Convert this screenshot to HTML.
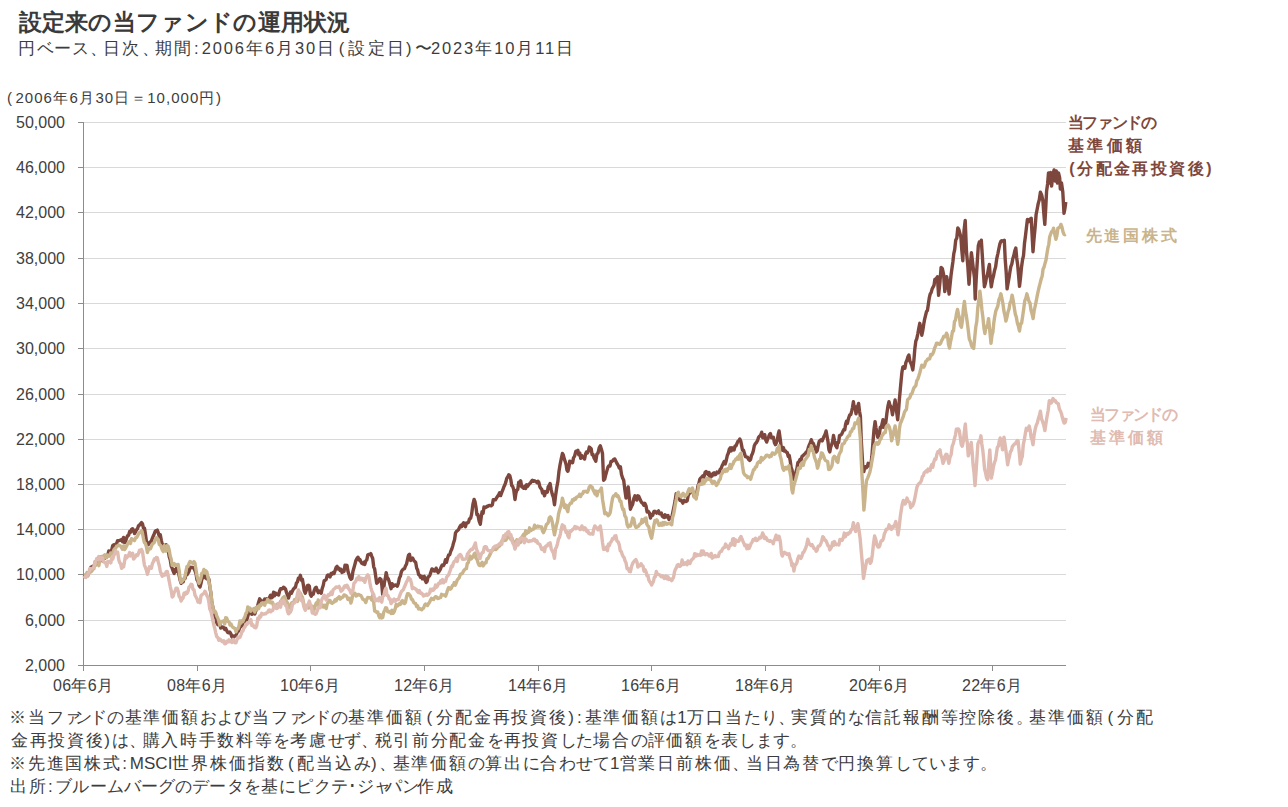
<!DOCTYPE html>
<html><head><meta charset="utf-8"><style>
html,body{margin:0;padding:0;background:#fff;width:1288px;height:807px;overflow:hidden;}
body{font-family:"Liberation Sans",sans-serif;color:#3c3c3c;position:relative;}
.t{position:absolute;white-space:nowrap;}
.yl{position:absolute;left:0;width:65px;text-align:right;font-size:16px;line-height:20px;color:#404040;}
.xl{position:absolute;top:676px;width:80px;text-align:center;font-size:16px;line-height:20px;color:#404040;letter-spacing:0.35px;text-indent:0.35px;}
svg{position:absolute;left:0;top:0;}
.kj{letter-spacing:calc(var(--ls) + 2.6px);}
.hi{letter-spacing:calc(var(--ls) + 0.9px);}
.ka{letter-spacing:calc(var(--ls) + 1.0px);}
.kn{letter-spacing:calc(var(--ls) - 1.5px);}
.sk{letter-spacing:calc(var(--ls) - 5px);}
.pu{letter-spacing:calc(var(--ls) - 3px);}
.dg{letter-spacing:calc(var(--ls) + var(--dg, 0.8px));}
.pl{margin-left:2.5px;margin-right:4.5px;}
.pr{margin-left:0px;margin-right:3.5px;}
.co{margin-left:0.5px;margin-right:3.5px;}
</style></head><body>
<div class="t" style="left:18.60px;top:6.50px;font-size:23.3px;font-weight:bold;color:#3a3a3a;--ls:0.294px;letter-spacing:0.294px;line-height:30px">設定来の当ファンドの運用状況</div>
<div class="t" style="left:17.60px;top:36.50px;font-size:16.5px;font-weight:normal;color:#3c3c3c;--ls:-0.405px;--dg:2.2px;letter-spacing:-0.405px;line-height:22px"><span class="kj">円</span><span class="ka">ベース</span><span class="pu">、</span><span class="kj">日次</span><span class="pu">、</span><span class="kj">期間</span><span class="co">:</span><span class="dg">2006</span><span class="kj">年</span><span class="dg">6</span><span class="kj">月</span><span class="dg">30</span><span class="kj">日</span><span class="pl">(</span><span class="kj">設定日</span><span class="pr">)</span><span class="wv">〜</span><span class="dg">2023</span><span class="kj">年</span><span class="dg">10</span><span class="kj">月</span><span class="dg">11</span><span class="kj">日</span></div>
<div class="t" style="left:4.50px;top:87.50px;font-size:15px;font-weight:normal;color:#3c3c3c;--ls:-1.132px;--dg:2.2px;letter-spacing:-1.132px;line-height:20px"><span class="pl">(</span><span class="dg">2006</span><span class="kj">年</span><span class="dg">6</span><span class="kj">月</span><span class="dg">30</span><span class="kj">日＝</span><span class="dg">10,000</span><span class="kj">円</span><span class="pr">)</span></div>

<div class="yl" style="top:656px">2,000</div><div class="yl" style="top:611px">6,000</div><div class="yl" style="top:565px">10,000</div><div class="yl" style="top:520px">14,000</div><div class="yl" style="top:475px">18,000</div><div class="yl" style="top:430px">22,000</div><div class="yl" style="top:385px">26,000</div><div class="yl" style="top:339px">30,000</div><div class="yl" style="top:294px">34,000</div><div class="yl" style="top:249px">38,000</div><div class="yl" style="top:203px">42,000</div><div class="yl" style="top:158px">46,000</div><div class="yl" style="top:113px">50,000</div>
<div class="xl" style="left:43px">06年6月</div><div class="xl" style="left:157px">08年6月</div><div class="xl" style="left:270px">10年6月</div><div class="xl" style="left:384px">12年6月</div><div class="xl" style="left:498px">14年6月</div><div class="xl" style="left:611px">16年6月</div><div class="xl" style="left:725px">18年6月</div><div class="xl" style="left:839px">20年6月</div><div class="xl" style="left:952px">22年6月</div>
<svg width="1288" height="807" viewBox="0 0 1288 807">
<line x1="78" y1="665.5" x2="83" y2="665.5" stroke="#8c8c8c" stroke-width="1"/><line x1="83" y1="620.5" x2="1066" y2="620.5" stroke="#d9d9d9" stroke-width="1"/><line x1="78" y1="620.5" x2="83" y2="620.5" stroke="#8c8c8c" stroke-width="1"/><line x1="83" y1="574.5" x2="1066" y2="574.5" stroke="#d9d9d9" stroke-width="1"/><line x1="78" y1="574.5" x2="83" y2="574.5" stroke="#8c8c8c" stroke-width="1"/><line x1="83" y1="529.5" x2="1066" y2="529.5" stroke="#d9d9d9" stroke-width="1"/><line x1="78" y1="529.5" x2="83" y2="529.5" stroke="#8c8c8c" stroke-width="1"/><line x1="83" y1="484.5" x2="1066" y2="484.5" stroke="#d9d9d9" stroke-width="1"/><line x1="78" y1="484.5" x2="83" y2="484.5" stroke="#8c8c8c" stroke-width="1"/><line x1="83" y1="439.5" x2="1066" y2="439.5" stroke="#d9d9d9" stroke-width="1"/><line x1="78" y1="439.5" x2="83" y2="439.5" stroke="#8c8c8c" stroke-width="1"/><line x1="83" y1="394.5" x2="1066" y2="394.5" stroke="#d9d9d9" stroke-width="1"/><line x1="78" y1="394.5" x2="83" y2="394.5" stroke="#8c8c8c" stroke-width="1"/><line x1="83" y1="348.5" x2="1066" y2="348.5" stroke="#d9d9d9" stroke-width="1"/><line x1="78" y1="348.5" x2="83" y2="348.5" stroke="#8c8c8c" stroke-width="1"/><line x1="83" y1="303.5" x2="1066" y2="303.5" stroke="#d9d9d9" stroke-width="1"/><line x1="78" y1="303.5" x2="83" y2="303.5" stroke="#8c8c8c" stroke-width="1"/><line x1="83" y1="258.5" x2="1066" y2="258.5" stroke="#d9d9d9" stroke-width="1"/><line x1="78" y1="258.5" x2="83" y2="258.5" stroke="#8c8c8c" stroke-width="1"/><line x1="83" y1="212.5" x2="1066" y2="212.5" stroke="#d9d9d9" stroke-width="1"/><line x1="78" y1="212.5" x2="83" y2="212.5" stroke="#8c8c8c" stroke-width="1"/><line x1="83" y1="167.5" x2="1066" y2="167.5" stroke="#d9d9d9" stroke-width="1"/><line x1="78" y1="167.5" x2="83" y2="167.5" stroke="#8c8c8c" stroke-width="1"/><line x1="83" y1="122.5" x2="1066" y2="122.5" stroke="#d9d9d9" stroke-width="1"/><line x1="78" y1="122.5" x2="83" y2="122.5" stroke="#8c8c8c" stroke-width="1"/>
<line x1="83.5" y1="122" x2="83.5" y2="671" stroke="#8c8c8c" stroke-width="1"/>
<line x1="78" y1="665.5" x2="1066" y2="665.5" stroke="#8c8c8c" stroke-width="1"/>
<line x1="83.5" y1="665" x2="83.5" y2="671" stroke="#8c8c8c" stroke-width="1"/><line x1="197.5" y1="665" x2="197.5" y2="671" stroke="#8c8c8c" stroke-width="1"/><line x1="310.5" y1="665" x2="310.5" y2="671" stroke="#8c8c8c" stroke-width="1"/><line x1="424.5" y1="665" x2="424.5" y2="671" stroke="#8c8c8c" stroke-width="1"/><line x1="538.5" y1="665" x2="538.5" y2="671" stroke="#8c8c8c" stroke-width="1"/><line x1="651.5" y1="665" x2="651.5" y2="671" stroke="#8c8c8c" stroke-width="1"/><line x1="765.5" y1="665" x2="765.5" y2="671" stroke="#8c8c8c" stroke-width="1"/><line x1="879.5" y1="665" x2="879.5" y2="671" stroke="#8c8c8c" stroke-width="1"/><line x1="992.5" y1="665" x2="992.5" y2="671" stroke="#8c8c8c" stroke-width="1"/>
<path d="M84.0,575.0 L85.0,576.5 L86.0,575.1 L87.0,574.8 L88.0,574.6 L89.0,572.6 L89.9,570.8 L90.9,567.1 L91.9,567.0 L92.9,566.1 L93.9,566.2 L94.9,565.2 L95.9,564.7 L96.9,562.3 L97.9,561.5 L98.9,560.1 L99.9,557.1 L100.8,557.0 L101.8,558.0 L102.8,561.0 L103.8,557.6 L104.8,558.3 L105.8,556.5 L106.8,556.2 L107.8,555.1 L108.8,550.9 L109.7,552.6 L110.7,552.4 L111.7,549.8 L112.7,545.7 L113.7,544.9 L114.7,547.3 L115.7,544.1 L116.6,543.7 L117.6,540.6 L118.6,540.6 L119.6,540.6 L120.6,540.1 L121.6,539.5 L122.6,541.8 L123.6,537.4 L124.6,542.6 L125.6,541.3 L126.6,538.0 L127.6,535.7 L128.6,535.2 L129.6,531.6 L130.6,532.2 L131.6,529.4 L132.6,528.7 L133.5,530.2 L134.5,533.6 L135.5,532.1 L136.5,529.9 L137.5,528.7 L138.5,525.7 L139.5,525.1 L140.5,523.8 L141.5,522.6 L142.5,523.8 L143.5,528.3 L144.5,528.3 L145.4,533.8 L146.4,541.2 L147.4,542.8 L148.4,544.6 L149.4,543.0 L150.4,541.9 L151.4,540.8 L152.4,538.1 L153.3,536.0 L154.3,533.7 L155.3,531.1 L156.3,530.7 L157.3,530.1 L158.3,532.8 L159.3,536.5 L160.3,534.7 L161.3,540.4 L162.3,544.6 L163.3,546.0 L164.3,545.4 L165.2,546.9 L166.2,544.8 L167.2,546.6 L168.2,550.2 L169.2,556.6 L170.2,559.6 L171.2,566.1 L172.2,568.4 L173.2,571.3 L174.2,573.4 L175.2,569.4 L176.1,571.5 L177.1,565.4 L178.1,569.1 L179.1,575.5 L180.1,580.0 L181.1,583.3 L182.1,580.7 L183.1,581.9 L184.1,578.7 L185.1,578.3 L186.0,574.0 L187.0,574.8 L188.0,573.2 L189.0,571.5 L190.0,567.4 L191.0,567.3 L192.0,567.7 L193.0,567.4 L194.0,568.4 L195.0,570.7 L196.0,573.6 L197.0,579.9 L198.0,581.4 L199.0,585.3 L200.0,587.0 L201.0,583.4 L201.9,578.9 L202.9,577.8 L203.9,575.3 L204.9,575.4 L205.9,578.2 L206.9,578.9 L207.9,577.6 L208.9,579.3 L209.9,587.5 L210.9,593.3 L211.8,602.7 L212.8,607.0 L213.8,613.7 L214.8,617.2 L215.8,618.0 L216.8,623.0 L217.8,624.6 L218.8,623.0 L219.8,624.1 L220.7,628.0 L221.7,627.6 L222.7,626.9 L223.7,627.7 L224.7,629.4 L225.7,628.3 L226.7,630.7 L227.7,632.4 L228.7,632.8 L229.7,632.0 L230.8,633.6 L231.8,636.7 L232.9,638.0 L233.9,635.9 L235.0,636.0 L236.0,635.8 L237.0,632.7 L237.9,631.7 L238.9,630.2 L239.9,626.9 L240.9,626.8 L241.9,625.9 L242.9,622.7 L243.9,621.9 L244.9,620.6 L245.8,619.6 L246.8,619.7 L247.8,616.2 L248.8,612.6 L249.8,611.0 L250.8,609.5 L251.8,614.4 L252.8,613.8 L253.8,612.2 L254.8,614.0 L255.8,610.8 L256.8,609.3 L257.7,605.4 L258.7,602.1 L259.7,598.8 L260.7,600.4 L261.7,601.0 L262.7,602.1 L263.7,600.9 L264.7,598.9 L265.7,600.1 L266.7,598.7 L267.7,600.1 L268.6,600.0 L269.6,597.0 L270.6,595.2 L271.6,597.8 L272.6,596.9 L273.6,592.1 L274.6,595.8 L275.6,593.0 L276.6,594.2 L277.6,593.9 L278.6,595.0 L279.6,591.0 L280.5,588.8 L281.5,588.8 L282.5,588.7 L283.5,587.2 L284.5,587.9 L285.5,589.1 L286.5,592.5 L287.5,595.2 L288.5,598.1 L289.5,594.5 L290.5,592.1 L291.4,593.3 L292.4,591.0 L293.4,589.2 L294.4,588.0 L295.4,587.3 L296.4,583.2 L297.4,582.0 L298.4,578.2 L299.4,578.6 L300.4,575.3 L301.4,580.2 L302.4,579.2 L303.3,584.5 L304.3,590.9 L305.3,593.2 L306.3,590.3 L307.3,585.8 L308.3,585.2 L309.3,586.0 L310.3,594.2 L311.3,596.2 L312.3,593.4 L313.3,594.2 L314.2,590.5 L315.2,588.1 L316.2,587.2 L317.2,590.1 L318.2,592.7 L319.2,591.0 L320.2,592.3 L321.2,593.2 L322.2,588.5 L323.2,585.5 L324.2,580.6 L325.2,580.3 L326.2,579.4 L327.2,575.6 L328.1,574.9 L329.1,575.6 L330.1,576.9 L331.1,573.4 L332.1,574.2 L333.1,572.6 L334.1,573.5 L335.1,570.5 L336.1,567.5 L337.1,566.4 L338.1,569.1 L339.1,568.4 L340.1,570.6 L341.0,569.2 L342.0,572.4 L343.0,571.8 L344.0,571.4 L345.0,565.2 L346.0,567.0 L347.0,565.4 L348.0,571.4 L348.9,574.1 L349.9,577.4 L350.9,579.3 L351.9,578.6 L352.9,571.4 L353.9,568.0 L354.9,564.4 L355.9,560.5 L356.9,558.5 L357.9,557.2 L358.9,559.9 L359.9,559.4 L360.9,561.9 L361.8,563.3 L362.8,563.9 L363.8,562.3 L364.8,564.4 L365.8,560.9 L366.8,559.9 L367.8,554.8 L368.8,554.5 L369.8,554.6 L370.8,553.6 L371.7,556.1 L372.7,558.5 L373.7,566.8 L374.7,569.2 L375.7,576.5 L376.7,583.3 L377.8,582.2 L378.9,580.1 L379.9,578.5 L381.0,579.3 L381.9,585.8 L382.7,595.2 L383.6,591.6 L384.4,582.7 L385.3,578.4 L386.2,572.6 L387.2,577.6 L388.2,578.6 L389.1,581.3 L390.1,585.1 L391.1,588.7 L392.1,583.7 L393.2,586.2 L394.2,585.6 L395.2,585.0 L396.3,585.3 L397.3,586.2 L398.3,583.4 L399.4,578.0 L400.4,576.2 L401.4,571.6 L402.5,569.9 L403.5,568.9 L404.5,568.8 L405.5,565.8 L406.5,564.2 L407.5,559.7 L408.5,555.2 L409.5,554.2 L410.6,560.5 L411.6,559.0 L412.6,558.1 L413.7,560.3 L414.7,561.4 L415.7,562.5 L416.7,568.2 L417.6,569.9 L418.6,574.5 L419.6,575.1 L420.5,577.3 L421.5,576.3 L422.4,578.8 L423.4,577.0 L424.3,576.4 L425.2,580.3 L426.2,582.4 L427.1,581.3 L428.1,576.9 L429.1,576.3 L430.0,574.8 L431.0,571.8 L432.0,568.9 L433.0,569.5 L434.1,571.1 L435.1,571.0 L436.1,568.2 L437.2,571.0 L438.2,572.6 L439.2,571.2 L440.3,569.3 L441.3,566.6 L442.3,565.0 L443.4,565.5 L444.4,563.9 L445.5,559.7 L446.5,562.3 L447.6,558.1 L448.6,555.0 L449.7,554.9 L450.7,551.4 L451.8,549.0 L452.7,546.2 L453.6,542.7 L454.6,539.4 L455.5,532.9 L456.5,531.3 L457.6,530.5 L458.6,529.6 L459.6,527.1 L460.7,525.4 L461.7,526.7 L462.6,524.2 L463.5,522.8 L464.5,525.2 L465.4,526.7 L466.4,523.0 L467.5,523.1 L468.5,522.2 L469.5,518.8 L470.6,518.3 L471.6,514.4 L472.9,504.5 L474.1,499.5 L475.0,501.6 L476.0,507.3 L476.9,514.6 L477.8,514.4 L479.1,520.9 L480.3,524.3 L481.2,517.3 L482.1,511.6 L483.1,513.3 L484.0,506.9 L485.0,507.8 L486.1,507.3 L487.1,506.1 L488.1,506.3 L489.2,505.4 L490.2,505.7 L491.2,505.9 L492.3,504.8 L493.3,499.7 L494.3,499.7 L495.4,499.9 L496.4,498.2 L497.5,496.4 L498.5,495.2 L499.6,492.8 L500.6,495.6 L501.7,492.6 L502.7,490.2 L503.8,487.1 L504.8,485.0 L505.8,482.1 L506.8,478.2 L507.8,476.9 L508.8,474.7 L509.8,475.7 L510.8,479.6 L511.7,485.5 L512.7,486.5 L513.7,489.6 L515.0,499.5 L515.9,493.2 L516.9,490.1 L517.8,489.4 L518.7,482.1 L519.7,485.6 L520.7,480.8 L521.7,486.8 L522.7,487.2 L523.7,488.3 L524.7,486.3 L525.7,488.4 L526.6,484.8 L527.6,486.4 L528.6,484.6 L529.5,483.9 L530.5,482.9 L531.4,481.3 L532.4,480.2 L533.3,481.3 L534.2,480.8 L535.2,481.2 L536.1,481.7 L537.0,482.6 L538.0,481.2 L538.9,482.5 L539.8,486.6 L540.8,488.4 L541.7,489.3 L542.6,493.1 L543.6,491.2 L544.5,495.8 L545.4,492.7 L546.4,491.4 L547.3,492.2 L548.2,486.8 L549.2,485.5 L550.1,483.6 L551.2,489.9 L552.3,494.3 L553.4,497.3 L554.5,504.8 L555.6,495.4 L556.8,487.3 L557.9,481.4 L559.0,471.3 L560.1,464.5 L561.3,458.7 L562.4,453.5 L563.3,454.9 L564.2,458.6 L565.1,461.3 L566.1,464.5 L567.0,470.2 L567.9,471.3 L568.8,467.7 L569.8,461.1 L570.7,461.8 L571.6,462.6 L572.6,462.7 L573.5,457.9 L574.6,456.2 L575.8,451.3 L576.9,451.2 L577.9,450.4 L578.8,454.8 L579.8,453.0 L580.7,458.4 L581.7,455.5 L582.6,457.7 L583.6,457.9 L584.6,459.0 L585.5,454.2 L586.5,451.9 L587.4,452.9 L588.4,451.1 L589.3,447.1 L590.3,447.9 L591.2,448.7 L592.1,454.7 L593.0,454.4 L594.0,457.9 L594.9,459.5 L595.8,461.3 L596.9,454.0 L598.0,453.1 L599.2,447.8 L600.3,445.7 L601.4,449.3 L602.5,453.5 L603.6,480.2 L604.7,479.1 L605.9,474.2 L607.0,470.4 L608.1,466.8 L609.1,465.6 L610.0,465.9 L611.0,461.5 L611.9,461.5 L612.9,460.6 L613.8,459.3 L614.8,459.0 L615.9,461.2 L617.0,463.5 L618.2,465.4 L619.3,468.0 L620.4,466.8 L621.5,474.4 L622.6,477.9 L623.7,480.2 L624.9,490.1 L626.0,498.1 L627.1,492.4 L628.2,486.9 L629.3,497.8 L630.4,509.2 L631.5,506.3 L632.6,504.4 L633.8,498.6 L634.9,495.8 L635.9,497.7 L636.8,500.1 L637.8,495.8 L638.7,496.3 L639.7,498.5 L640.6,500.6 L641.6,502.5 L642.7,503.2 L643.8,505.3 L644.9,503.4 L646.0,505.9 L647.1,512.0 L648.2,511.2 L649.4,513.0 L650.5,518.1 L651.6,514.4 L652.8,515.1 L653.9,511.5 L654.8,511.3 L655.7,512.2 L656.6,513.1 L657.6,511.7 L658.5,510.9 L659.4,513.7 L660.4,513.8 L661.3,513.0 L662.3,516.2 L663.2,517.0 L664.2,517.5 L665.1,514.8 L666.1,517.0 L667.0,516.2 L668.0,515.5 L668.9,519.5 L669.8,517.6 L670.8,517.4 L671.7,518.1 L672.8,512.4 L674.0,506.7 L675.1,500.9 L676.2,493.6 L677.1,494.1 L678.1,493.7 L679.0,497.5 L679.9,500.3 L680.9,499.9 L681.8,501.4 L682.9,503.1 L684.0,500.4 L685.1,501.1 L686.2,501.6 L687.2,500.7 L688.2,495.5 L689.1,494.0 L690.1,492.0 L691.1,490.5 L692.1,491.2 L693.1,492.7 L694.1,496.4 L695.1,495.8 L696.1,497.9 L697.0,491.7 L698.0,485.9 L698.9,483.3 L699.8,479.3 L700.9,477.9 L701.9,477.0 L703.0,475.7 L704.0,477.1 L705.1,472.5 L706.1,471.5 L707.2,473.1 L708.2,474.6 L709.1,472.5 L710.1,478.4 L711.1,474.7 L712.0,476.0 L713.0,473.5 L714.0,472.8 L714.9,474.7 L715.9,474.3 L716.9,472.1 L718.0,472.8 L719.0,472.8 L720.0,469.7 L721.1,468.5 L722.1,465.7 L723.1,463.8 L724.2,461.4 L725.2,464.0 L726.2,460.7 L727.3,455.5 L728.3,453.3 L729.3,449.2 L730.2,447.9 L731.2,450.9 L732.2,447.8 L733.1,449.0 L734.1,449.9 L735.1,445.9 L736.0,446.0 L737.0,443.4 L737.9,441.4 L738.9,440.7 L739.8,439.1 L740.7,440.9 L741.6,445.4 L742.5,450.2 L743.5,450.1 L744.4,453.3 L745.4,456.6 L746.5,457.0 L747.5,457.1 L748.5,459.3 L749.6,460.4 L750.6,459.5 L751.5,455.4 L752.5,453.4 L753.4,450.5 L754.3,445.8 L755.4,443.6 L756.4,442.5 L757.5,440.7 L758.5,437.6 L759.6,436.1 L760.6,435.3 L761.7,432.2 L762.7,437.7 L763.7,437.6 L764.7,434.7 L765.7,439.8 L766.7,442.1 L767.6,439.3 L768.5,437.2 L769.5,434.6 L770.4,433.5 L771.4,437.7 L772.4,437.8 L773.4,437.3 L774.4,442.7 L775.4,444.6 L776.3,442.9 L777.2,440.7 L778.2,434.5 L779.1,431.0 L780.3,439.6 L781.5,449.6 L782.5,450.2 L783.4,447.5 L784.3,451.0 L785.3,450.8 L786.3,452.2 L787.3,452.6 L788.2,456.4 L789.2,455.4 L790.2,460.7 L791.1,467.3 L792.0,469.8 L793.0,475.7 L793.9,479.3 L794.9,478.0 L795.9,472.1 L796.9,468.7 L797.9,462.5 L798.9,462.0 L800.0,459.4 L801.0,460.0 L802.1,456.2 L803.1,455.6 L804.2,454.4 L805.2,453.7 L806.3,452.0 L807.3,451.4 L808.3,447.6 L809.3,444.9 L810.3,442.6 L811.3,439.7 L812.3,442.5 L813.3,443.4 L814.2,446.0 L815.2,447.7 L816.2,452.0 L817.2,450.7 L818.2,445.6 L819.2,441.3 L820.2,440.4 L821.2,439.7 L822.2,441.0 L823.2,438.4 L824.1,436.2 L825.1,434.3 L826.1,431.0 L827.0,436.0 L828.0,441.6 L828.9,449.6 L829.8,452.0 L830.7,447.2 L831.6,444.7 L832.6,441.4 L833.5,435.5 L834.6,441.1 L835.8,445.9 L836.9,447.7 L837.8,442.5 L838.6,442.6 L839.5,435.5 L840.6,435.1 L841.7,434.2 L842.8,431.6 L843.9,429.4 L844.8,429.7 L845.6,424.3 L846.5,421.3 L847.4,423.4 L848.5,418.5 L849.7,415.0 L850.8,414.7 L851.7,411.2 L852.5,407.6 L853.4,401.7 L854.3,408.2 L855.1,406.7 L856.0,413.8 L856.9,409.8 L857.7,406.5 L858.6,403.4 L859.5,411.3 L860.4,416.4 L861.3,440.7 L862.1,454.2 L863.0,470.2 L863.9,471.5 L864.7,466.9 L865.6,466.7 L866.5,467.6 L867.3,466.7 L868.2,463.3 L869.1,465.8 L869.9,465.8 L870.8,465.0 L871.9,456.3 L873.0,441.7 L874.0,429.7 L875.1,421.6 L876.0,428.1 L876.8,432.0 L877.7,437.3 L878.6,435.4 L879.5,433.6 L880.3,427.2 L881.2,427.7 L882.1,423.5 L883.0,419.7 L883.8,427.4 L884.7,425.1 L885.8,422.6 L886.9,413.2 L887.9,406.5 L889.0,401.7 L889.9,405.1 L890.8,406.5 L891.6,409.3 L892.5,414.7 L893.4,409.0 L894.2,405.4 L895.1,400.0 L896.0,406.8 L896.8,413.1 L897.7,419.9 L898.5,411.0 L899.4,399.1 L900.3,389.4 L901.1,380.6 L902.0,371.7 L902.9,366.9 L903.9,366.4 L904.9,368.2 L905.9,362.4 L906.9,360.2 L907.9,356.9 L908.9,355.0 L909.9,361.3 L910.8,363.1 L911.8,365.5 L912.8,369.9 L913.8,361.3 L914.8,349.1 L915.8,341.1 L916.8,338.6 L917.8,333.8 L918.8,328.3 L919.8,323.3 L920.8,328.7 L921.8,335.2 L922.7,331.0 L923.7,324.4 L924.6,319.3 L925.5,315.6 L926.5,311.6 L927.4,310.5 L928.4,304.1 L929.3,297.8 L930.2,294.0 L931.2,292.3 L932.1,289.1 L933.0,287.3 L934.0,285.4 L934.9,279.3 L936.1,278.9 L937.4,276.8 L938.6,295.4 L939.9,282.7 L941.1,267.5 L942.4,268.8 L943.6,274.3 L944.8,291.6 L945.8,283.5 L946.7,276.8 L947.9,284.1 L949.1,294.1 L950.0,285.4 L951.0,275.5 L951.9,268.8 L952.9,261.7 L953.8,253.6 L954.7,249.6 L955.7,240.3 L956.8,238.0 L957.8,227.9 L958.8,229.4 L959.9,233.5 L960.9,237.2 L961.8,250.2 L962.8,260.7 L964.0,231.0 L965.2,220.4 L966.5,252.0 L967.8,265.8 L969.0,284.2 L970.2,267.6 L971.4,252.6 L972.4,260.6 L973.5,270.1 L974.5,278.0 L975.2,299.0 L976.2,278.9 L977.3,261.3 L978.3,245.8 L979.3,242.1 L980.3,243.0 L981.3,240.2 L982.3,255.3 L983.4,272.8 L984.4,286.7 L985.4,283.3 L986.4,277.9 L987.4,274.8 L988.4,269.2 L989.4,264.4 L990.3,277.5 L991.3,286.7 L992.4,280.1 L993.5,275.8 L994.5,270.7 L995.6,266.9 L996.7,258.9 L997.8,254.0 L998.8,249.0 L999.9,243.9 L1001.0,241.1 L1002.1,240.7 L1003.2,241.3 L1004.3,240.2 L1005.2,259.3 L1006.2,272.3 L1007.1,288.9 L1008.0,283.5 L1009.0,277.9 L1009.9,272.0 L1010.8,266.6 L1011.8,264.1 L1012.8,258.7 L1013.8,255.6 L1014.8,250.8 L1015.8,248.0 L1016.7,258.0 L1017.6,264.2 L1018.6,275.7 L1019.5,286.4 L1020.5,277.7 L1021.5,267.2 L1022.5,260.0 L1023.5,255.7 L1024.5,243.3 L1025.4,236.5 L1026.4,227.9 L1027.4,219.5 L1028.4,221.8 L1029.3,220.2 L1030.2,219.1 L1031.2,218.2 L1032.1,234.8 L1033.0,251.7 L1034.0,239.1 L1035.1,227.6 L1036.1,214.5 L1037.2,209.0 L1038.2,203.6 L1039.3,199.7 L1040.4,192.2 L1041.7,195.2 L1042.9,200.9 L1043.8,213.0 L1044.8,224.4 L1045.7,208.8 L1046.6,191.0 L1047.6,184.0 L1048.5,173.0 L1049.6,183.0 L1050.5,172.5 L1051.6,186.0 L1052.8,175.0 L1054.1,169.9 L1055.3,181.0 L1056.3,171.0 L1057.4,183.0 L1058.5,173.0 L1059.7,178.0 L1060.3,189.0 L1061.5,183.0 L1062.8,192.0 L1064.0,213.3 L1064.9,208.6 L1065.8,202.1" fill="none" stroke="#7e473d" stroke-width="3.4" stroke-linejoin="round"/>
<path d="M84.0,575.0 L85.0,575.0 L86.0,575.2 L87.0,572.6 L88.0,576.1 L89.0,573.0 L89.9,572.2 L90.9,571.8 L91.9,571.0 L92.9,569.0 L93.9,568.7 L94.9,561.7 L95.9,564.8 L96.9,564.2 L97.9,563.7 L98.9,565.6 L99.9,559.2 L100.8,560.3 L101.8,556.6 L102.8,558.3 L103.8,555.7 L104.8,554.9 L105.8,557.5 L106.8,557.6 L107.8,555.1 L108.8,555.5 L109.7,556.2 L110.7,553.0 L111.7,553.1 L112.7,554.0 L113.7,550.2 L114.7,548.8 L115.7,548.2 L116.6,546.2 L117.6,546.0 L118.6,545.1 L119.6,545.6 L120.6,546.1 L121.6,547.7 L122.6,549.2 L123.6,545.9 L124.6,549.6 L125.6,548.0 L126.6,545.9 L127.6,544.0 L128.5,542.8 L129.5,541.6 L130.5,543.5 L131.5,538.7 L132.5,539.4 L133.5,539.9 L134.5,540.6 L135.5,537.9 L136.5,537.5 L137.5,536.0 L138.5,534.0 L139.5,532.5 L140.5,532.1 L141.5,530.7 L142.5,533.6 L143.5,538.8 L144.4,542.6 L145.4,543.4 L146.4,546.7 L147.4,552.5 L148.4,549.4 L149.4,548.4 L150.4,548.7 L151.4,546.4 L152.3,544.1 L153.3,543.2 L154.3,542.6 L155.3,539.5 L156.3,537.7 L157.3,538.3 L158.3,539.9 L159.3,544.5 L160.3,545.1 L161.3,547.1 L162.3,550.0 L163.3,551.5 L164.3,545.7 L165.2,547.0 L166.2,551.2 L167.2,545.6 L168.2,546.4 L169.2,549.9 L170.2,556.1 L171.2,559.3 L172.2,565.4 L173.2,564.2 L174.2,563.6 L175.1,565.4 L176.1,565.4 L177.1,564.6 L178.1,564.4 L179.1,570.3 L180.1,578.1 L181.1,582.3 L182.1,581.1 L183.1,579.9 L184.1,579.0 L185.1,576.1 L186.0,570.9 L187.0,566.5 L188.0,566.3 L189.0,563.6 L190.0,561.5 L191.0,562.2 L192.0,562.9 L193.0,563.3 L194.0,561.6 L195.0,563.4 L196.0,569.6 L197.0,576.0 L198.0,579.5 L199.0,583.3 L200.0,581.1 L201.0,577.8 L201.9,573.1 L202.9,572.9 L203.9,569.4 L204.9,573.0 L205.9,570.8 L206.9,572.0 L207.9,577.0 L208.9,581.3 L209.9,586.4 L210.9,593.0 L211.8,601.2 L212.8,607.0 L213.8,612.2 L214.8,610.8 L215.8,612.5 L216.8,616.1 L217.8,618.0 L218.8,621.0 L219.8,625.0 L220.8,621.5 L221.8,621.7 L222.8,621.8 L223.7,620.7 L224.7,623.9 L225.7,617.8 L226.7,618.0 L227.8,621.3 L228.9,621.6 L230.0,624.9 L231.0,624.0 L232.0,626.2 L233.0,627.5 L234.0,627.9 L235.0,628.4 L236.0,631.8 L237.0,629.4 L238.0,628.6 L239.0,626.0 L239.9,620.9 L240.9,623.1 L241.9,620.8 L242.9,621.5 L243.9,618.7 L244.9,616.9 L245.9,613.3 L246.8,612.3 L247.8,607.0 L248.8,608.5 L249.8,608.0 L250.8,611.2 L251.8,609.5 L252.8,609.5 L253.8,608.6 L254.8,612.0 L255.8,607.7 L256.8,609.4 L257.7,606.4 L258.7,608.6 L259.7,605.1 L260.7,605.8 L261.7,603.3 L262.7,602.7 L263.7,603.9 L264.7,605.3 L265.7,602.1 L266.7,602.2 L267.7,599.3 L268.7,602.0 L269.7,601.1 L270.7,602.8 L271.7,602.0 L272.6,602.4 L273.6,606.2 L274.6,605.1 L275.6,605.6 L276.6,606.0 L277.6,604.0 L278.6,604.3 L279.5,604.5 L280.5,601.5 L281.5,600.4 L282.5,598.3 L283.5,597.1 L284.5,596.5 L285.5,600.0 L286.5,601.2 L287.5,603.1 L288.5,605.4 L289.5,608.0 L290.5,607.3 L291.5,603.2 L292.5,602.4 L293.5,602.9 L294.5,599.8 L295.4,600.2 L296.4,598.4 L297.4,601.4 L298.4,599.3 L299.4,596.6 L300.4,593.2 L301.4,595.5 L302.4,597.3 L303.3,601.2 L304.3,606.6 L305.3,606.1 L306.3,606.1 L307.3,605.8 L308.3,608.0 L309.3,606.3 L310.3,607.9 L311.3,608.0 L312.3,606.2 L313.3,609.3 L314.2,609.3 L315.2,605.6 L316.2,603.1 L317.2,605.1 L318.2,600.0 L319.2,603.6 L320.2,606.3 L321.2,606.3 L322.2,604.8 L323.2,607.1 L324.2,605.2 L325.2,606.6 L326.2,608.5 L327.2,603.8 L328.1,602.3 L329.1,600.3 L330.1,600.7 L331.1,602.6 L332.1,603.3 L333.1,602.1 L334.1,602.0 L335.1,599.8 L336.1,601.0 L337.1,598.6 L338.1,598.1 L339.1,596.7 L340.0,599.1 L341.0,598.3 L342.0,597.3 L343.0,597.0 L344.0,594.9 L345.0,595.2 L346.0,595.7 L347.0,596.8 L347.9,599.4 L348.9,599.7 L349.9,598.3 L350.9,603.1 L351.9,599.6 L352.9,593.2 L353.9,594.6 L354.9,593.2 L355.9,596.0 L356.9,595.7 L357.9,594.4 L358.9,594.4 L359.9,595.4 L360.9,595.5 L361.8,597.2 L362.8,599.2 L363.8,599.6 L364.8,600.6 L365.8,602.6 L366.8,599.1 L367.8,597.5 L368.8,597.8 L369.8,597.7 L370.7,597.8 L371.7,600.1 L372.7,595.2 L373.7,602.5 L374.7,611.0 L375.7,611.3 L376.7,612.3 L377.7,611.9 L378.7,615.6 L379.7,617.8 L380.7,614.8 L381.7,618.0 L382.7,617.5 L383.7,612.4 L384.6,610.3 L385.6,607.8 L386.6,608.0 L387.7,611.7 L388.9,612.0 L390.0,611.4 L391.1,613.5 L392.1,610.3 L393.1,613.3 L394.2,611.7 L395.2,608.8 L396.2,604.3 L397.2,606.1 L398.3,605.2 L399.3,603.8 L400.3,604.4 L401.3,601.9 L402.4,600.6 L403.4,603.0 L404.4,603.6 L405.4,602.4 L406.5,597.0 L407.5,593.7 L408.5,593.7 L409.5,594.8 L410.5,596.2 L411.5,599.2 L412.5,599.6 L413.5,602.2 L414.6,603.3 L415.6,603.4 L416.6,606.5 L417.6,605.7 L418.6,608.9 L419.6,608.5 L420.6,609.2 L421.6,609.7 L422.6,608.7 L423.6,608.0 L424.6,605.2 L425.5,604.1 L426.5,604.5 L427.5,605.5 L428.5,603.6 L429.5,602.3 L430.5,600.1 L431.5,598.4 L432.5,599.1 L433.5,599.5 L434.5,597.9 L435.5,596.7 L436.5,597.0 L437.6,598.5 L438.6,598.3 L439.6,597.6 L440.6,597.6 L441.6,594.3 L442.6,595.0 L443.6,595.0 L444.6,595.0 L445.6,596.1 L446.6,593.3 L447.5,590.3 L448.5,587.7 L449.5,588.0 L450.4,589.2 L451.4,588.1 L452.4,585.6 L453.3,585.3 L454.3,582.5 L455.3,585.2 L456.3,582.8 L457.3,579.9 L458.3,578.8 L459.3,577.4 L460.4,574.3 L461.4,573.8 L462.4,573.4 L463.4,571.2 L464.4,569.9 L465.4,568.9 L466.4,568.7 L467.3,563.4 L468.3,562.6 L469.3,558.5 L470.2,556.1 L471.2,559.0 L472.2,557.7 L473.1,557.1 L474.1,554.0 L475.1,553.1 L476.1,558.2 L477.1,559.6 L478.1,563.0 L479.1,565.2 L480.1,565.6 L481.1,563.8 L482.1,562.4 L483.1,565.9 L484.1,564.3 L485.0,562.8 L486.0,562.8 L487.0,558.7 L488.0,558.5 L489.0,556.5 L490.0,554.6 L491.0,552.4 L492.0,550.6 L493.0,550.1 L493.9,549.1 L494.9,548.4 L495.9,549.5 L496.9,548.6 L497.9,545.6 L498.9,546.6 L499.9,545.4 L500.9,543.7 L501.9,540.7 L502.9,540.6 L503.9,537.1 L504.8,540.5 L505.8,540.1 L506.8,538.8 L507.8,534.4 L508.8,534.2 L509.8,537.3 L510.9,539.4 L511.9,537.9 L512.9,541.1 L514.0,543.8 L515.0,541.6 L516.0,541.7 L516.9,539.7 L517.9,541.2 L518.9,540.5 L519.8,542.7 L520.8,542.1 L521.8,537.2 L522.7,535.8 L523.7,534.2 L524.7,535.7 L525.7,530.8 L526.7,533.6 L527.7,532.2 L528.7,532.2 L529.6,527.8 L530.6,530.7 L531.6,530.1 L532.6,529.2 L533.6,529.2 L534.6,525.2 L535.7,527.5 L536.7,527.1 L537.7,526.1 L538.7,527.0 L539.6,526.5 L540.6,527.0 L541.6,527.0 L542.5,531.0 L543.5,532.6 L544.5,530.4 L545.5,527.6 L546.4,524.6 L547.4,523.7 L548.3,522.5 L549.3,517.7 L550.2,516.9 L551.2,518.1 L552.3,522.3 L553.4,528.9 L554.5,534.9 L555.5,529.7 L556.5,524.8 L557.5,521.4 L558.5,514.2 L559.4,510.8 L560.4,507.5 L561.4,504.3 L562.4,498.1 L563.5,502.7 L564.6,507.5 L565.7,505.0 L566.8,509.2 L567.8,511.7 L568.7,505.5 L569.7,504.4 L570.6,503.0 L571.6,503.1 L572.5,499.8 L573.5,500.3 L574.5,498.6 L575.5,499.3 L576.5,497.2 L577.5,496.7 L578.5,496.4 L579.6,494.2 L580.6,496.6 L581.6,494.2 L582.6,493.7 L583.6,491.4 L584.6,491.7 L585.5,491.3 L586.5,491.6 L587.4,492.3 L588.4,489.9 L589.3,487.0 L590.3,485.8 L591.3,486.6 L592.2,487.2 L593.2,490.1 L594.1,491.8 L595.1,494.1 L596.0,491.1 L597.0,495.8 L598.1,491.5 L599.2,490.9 L600.3,490.2 L601.4,488.0 L602.5,499.2 L603.7,506.5 L604.8,513.7 L605.9,512.6 L607.0,514.0 L608.1,515.7 L609.2,514.8 L610.3,512.3 L611.5,504.2 L612.6,498.1 L613.7,495.8 L614.8,495.5 L615.9,493.7 L617.0,496.5 L618.1,495.8 L619.0,497.9 L620.0,501.4 L620.9,501.2 L621.8,506.2 L622.8,509.5 L623.7,509.2 L624.8,515.8 L626.0,517.5 L627.1,524.5 L628.2,527.1 L629.3,525.6 L630.5,526.1 L631.6,522.6 L632.7,518.1 L633.8,519.1 L634.9,525.1 L636.0,527.4 L637.1,527.1 L638.1,526.6 L639.1,525.1 L640.1,523.9 L641.1,523.7 L642.0,519.6 L643.0,522.2 L644.0,521.0 L645.0,518.4 L646.0,518.1 L646.9,524.4 L647.9,525.9 L648.8,526.7 L649.7,532.1 L650.7,535.7 L651.6,538.2 L652.7,532.1 L653.9,525.2 L655.0,520.4 L656.0,521.7 L657.0,519.9 L658.0,522.8 L659.0,525.3 L659.9,525.1 L660.9,523.4 L661.9,525.2 L662.9,522.6 L663.9,524.8 L664.9,522.5 L665.9,523.2 L666.8,524.2 L667.8,523.7 L668.8,523.4 L669.8,523.1 L670.7,524.1 L671.7,524.8 L672.6,517.4 L673.6,514.3 L674.5,509.4 L675.4,504.0 L676.4,499.0 L677.3,493.6 L678.3,492.2 L679.2,495.2 L680.2,495.8 L681.1,496.7 L682.1,494.7 L683.1,493.3 L684.0,494.6 L685.0,496.7 L686.1,495.0 L687.1,494.3 L688.2,491.0 L689.2,488.8 L690.3,491.4 L691.3,490.1 L692.4,488.0 L693.3,490.9 L694.2,497.3 L695.2,495.7 L696.1,499.1 L697.0,494.4 L698.0,489.9 L698.9,484.8 L699.8,484.3 L700.8,483.9 L701.8,484.3 L702.8,479.9 L703.8,483.8 L704.8,481.6 L705.7,481.1 L706.7,478.1 L707.7,478.3 L708.7,479.4 L709.7,479.3 L710.6,479.5 L711.6,482.0 L712.5,483.5 L713.5,481.4 L714.4,481.5 L715.3,483.1 L716.3,485.4 L717.2,484.3 L718.2,482.7 L719.2,480.2 L720.2,479.1 L721.3,474.2 L722.3,473.3 L723.3,470.6 L724.3,469.9 L725.2,471.5 L726.2,469.2 L727.2,471.0 L728.1,468.5 L729.1,468.6 L730.1,464.4 L731.0,468.5 L732.0,465.7 L733.0,464.1 L733.9,461.5 L734.9,460.8 L735.9,458.9 L736.8,459.3 L737.8,456.9 L738.8,459.3 L739.7,454.9 L740.7,453.3 L741.6,458.5 L742.5,465.8 L743.5,472.6 L744.4,474.3 L745.4,475.4 L746.5,475.8 L747.5,477.6 L748.5,477.0 L749.6,477.3 L750.6,479.3 L751.6,475.8 L752.6,472.9 L753.5,469.6 L754.5,469.4 L755.5,466.9 L756.5,466.9 L757.4,463.4 L758.4,462.2 L759.4,461.5 L760.3,462.4 L761.3,457.4 L762.3,460.1 L763.2,459.0 L764.2,458.2 L765.2,457.1 L766.2,455.4 L767.3,455.1 L768.3,455.8 L769.3,456.9 L770.3,455.5 L771.3,456.1 L772.3,452.9 L773.4,453.1 L774.4,454.2 L775.4,453.3 L776.3,452.3 L777.2,448.6 L778.2,449.1 L779.1,445.8 L780.0,455.2 L781.0,458.7 L781.9,463.6 L782.8,468.2 L783.8,470.3 L784.9,467.6 L785.9,467.3 L786.9,468.9 L788.0,467.6 L789.0,465.7 L789.9,471.7 L790.9,477.2 L791.8,489.0 L792.7,492.9 L793.6,486.5 L794.5,483.2 L795.5,480.1 L796.4,476.8 L797.4,472.9 L798.4,468.2 L799.4,467.8 L800.4,468.2 L801.3,464.2 L802.3,462.7 L803.3,465.3 L804.3,461.1 L805.3,459.5 L806.3,458.2 L807.3,456.7 L808.3,455.4 L809.3,449.5 L810.3,450.5 L811.3,445.8 L812.3,450.1 L813.4,451.9 L814.4,457.0 L815.4,459.8 L816.5,462.7 L817.5,468.2 L818.5,464.9 L819.5,459.4 L820.4,458.7 L821.4,452.9 L822.4,453.3 L823.5,455.9 L824.5,458.9 L825.6,460.6 L826.6,461.1 L827.7,461.6 L828.7,469.5 L829.8,469.4 L830.9,467.8 L832.0,465.6 L833.2,457.7 L834.3,456.3 L835.2,457.1 L836.0,457.6 L836.9,461.5 L837.8,462.4 L838.9,455.2 L840.0,452.8 L841.1,451.0 L842.2,444.2 L843.2,443.9 L844.3,443.1 L845.3,440.4 L846.4,439.6 L847.4,437.3 L848.4,436.0 L849.5,435.8 L850.5,431.6 L851.6,431.5 L852.6,428.6 L853.7,428.4 L854.9,423.0 L856.0,423.4 L856.9,423.5 L857.7,420.8 L858.6,418.2 L859.5,429.9 L860.4,439.0 L861.2,459.8 L862.1,477.2 L863.0,492.3 L863.9,510.1 L864.8,500.5 L865.6,489.7 L866.5,480.6 L867.6,478.2 L868.8,475.2 L869.9,472.0 L871.0,466.6 L872.1,460.2 L873.2,454.0 L874.3,445.9 L875.4,443.6 L876.6,442.6 L877.7,444.2 L878.8,443.5 L879.9,439.9 L881.0,438.8 L882.1,435.5 L883.1,434.5 L884.1,432.7 L885.2,432.6 L886.2,426.9 L887.2,425.5 L888.2,425.1 L889.3,426.9 L890.5,431.9 L891.6,440.7 L892.5,437.3 L893.4,433.9 L894.2,429.6 L895.1,426.0 L896.0,432.8 L896.8,437.5 L897.7,444.2 L898.6,438.9 L899.4,429.0 L900.3,423.4 L901.3,421.6 L902.3,418.7 L903.3,416.5 L904.4,412.4 L905.4,410.5 L906.4,409.5 L907.6,399.7 L908.9,398.6 L909.9,397.5 L910.9,394.1 L911.8,394.0 L912.8,391.0 L913.8,388.1 L914.8,386.7 L915.8,385.7 L916.8,380.7 L917.8,379.1 L918.8,376.1 L919.8,372.7 L920.8,368.9 L921.8,365.2 L922.8,366.1 L923.8,367.1 L924.7,365.2 L925.7,361.5 L926.7,360.9 L927.7,359.0 L928.7,359.0 L929.7,358.9 L930.7,354.6 L931.7,355.0 L932.7,353.9 L933.7,351.5 L934.6,348.1 L935.6,346.1 L936.6,343.1 L937.6,343.2 L938.6,343.9 L939.6,344.3 L940.6,343.3 L941.6,340.7 L942.6,339.1 L943.6,336.5 L944.5,336.0 L945.5,336.7 L946.5,333.2 L947.5,335.2 L948.5,344.2 L949.5,348.0 L950.5,341.8 L951.5,337.3 L952.5,331.2 L953.5,331.1 L954.5,321.5 L955.5,320.0 L956.5,313.9 L957.5,309.4 L958.5,314.4 L959.5,317.9 L960.4,325.5 L961.4,327.2 L962.4,320.8 L963.4,308.5 L964.4,301.5 L965.4,310.6 L966.4,316.3 L967.4,323.3 L968.3,330.6 L969.3,339.1 L970.4,341.4 L971.5,345.6 L972.6,347.6 L973.7,348.4 L974.7,337.9 L975.8,326.8 L976.8,321.5 L977.8,307.7 L978.9,299.6 L979.9,291.3 L980.9,299.4 L981.9,309.7 L982.9,317.4 L983.9,327.6 L984.9,333.5 L985.8,328.0 L986.8,327.3 L987.7,323.8 L988.6,318.6 L989.8,331.0 L991.0,343.4 L992.0,335.3 L992.9,332.0 L993.8,322.8 L994.8,316.1 L995.8,311.0 L996.8,308.5 L997.8,306.1 L998.9,299.7 L999.9,297.3 L1000.9,293.8 L1001.9,298.4 L1002.9,303.5 L1003.9,311.0 L1004.9,315.3 L1005.9,321.1 L1006.9,317.4 L1008.0,312.0 L1009.0,309.1 L1010.0,303.0 L1011.1,300.9 L1012.1,295.1 L1013.2,300.4 L1014.2,307.2 L1015.3,314.1 L1016.3,317.0 L1017.4,323.3 L1018.4,326.1 L1019.5,331.0 L1020.6,323.8 L1021.6,323.2 L1022.7,316.1 L1023.7,309.0 L1024.8,300.6 L1025.8,298.4 L1026.9,293.8 L1027.9,297.8 L1029.0,301.4 L1030.0,303.1 L1031.0,310.3 L1032.1,314.0 L1033.1,318.6 L1034.1,311.0 L1035.2,306.0 L1036.2,301.2 L1037.2,295.8 L1038.3,290.6 L1039.3,286.4 L1040.3,282.6 L1041.2,279.0 L1042.2,275.9 L1043.1,269.0 L1044.1,266.9 L1045.0,263.4 L1046.0,260.0 L1046.9,253.9 L1047.8,248.4 L1048.8,244.3 L1049.7,236.8 L1050.7,234.0 L1051.6,231.5 L1052.5,231.2 L1053.5,228.2 L1054.7,233.8 L1055.9,239.3 L1056.9,235.5 L1057.9,228.3 L1058.9,227.7 L1059.9,227.0 L1060.9,224.4 L1061.9,226.8 L1063.0,231.8 L1064.0,234.3 L1064.9,234.7 L1065.8,234.3" fill="none" stroke="#cab48b" stroke-width="3.4" stroke-linejoin="round"/>
<path d="M84.0,578.3 L85.0,576.8 L86.0,577.4 L87.0,575.9 L88.0,573.6 L88.9,572.5 L89.9,568.5 L90.9,569.0 L91.9,568.4 L92.9,567.9 L93.9,567.1 L94.9,563.2 L95.9,561.5 L96.8,558.4 L97.8,559.6 L98.8,556.6 L99.8,556.9 L100.8,559.2 L101.8,557.5 L102.8,558.5 L103.8,562.0 L104.8,562.4 L105.8,563.2 L106.8,566.4 L107.8,561.4 L108.8,562.1 L109.8,561.2 L110.8,562.9 L111.8,558.0 L112.7,559.2 L113.7,555.4 L114.7,554.2 L115.7,550.8 L116.7,552.5 L117.7,552.3 L118.7,559.5 L119.6,562.5 L120.6,563.6 L121.6,568.4 L122.6,565.3 L123.6,566.9 L124.6,561.1 L125.6,555.6 L126.6,557.9 L127.6,556.5 L128.6,555.2 L129.6,552.5 L130.6,555.9 L131.6,554.9 L132.6,553.2 L133.5,559.1 L134.5,558.0 L135.5,556.5 L136.5,554.7 L137.5,555.5 L138.5,553.4 L139.5,550.3 L140.5,551.7 L141.5,549.6 L142.5,551.8 L143.5,558.8 L144.4,565.1 L145.4,567.4 L146.4,570.2 L147.4,574.3 L148.4,570.9 L149.4,566.8 L150.4,567.7 L151.4,568.2 L152.3,563.8 L153.3,561.9 L154.3,559.0 L155.3,559.7 L156.3,557.5 L157.3,557.6 L158.3,562.2 L159.3,565.8 L160.3,571.2 L161.3,574.0 L162.3,576.3 L163.3,574.2 L164.3,575.2 L165.2,574.9 L166.2,571.6 L167.2,571.4 L168.2,575.6 L169.2,581.1 L170.2,586.3 L171.2,590.7 L172.2,597.1 L173.2,596.0 L174.2,592.2 L175.1,591.0 L176.1,588.1 L177.1,588.2 L178.1,590.9 L179.1,596.4 L180.1,597.5 L181.1,601.1 L182.1,599.1 L183.1,597.9 L184.1,593.1 L185.1,594.5 L186.1,592.3 L187.0,593.3 L188.0,591.7 L189.0,587.1 L190.0,586.3 L191.0,584.3 L192.0,584.7 L193.0,589.5 L194.0,589.8 L195.0,595.2 L196.0,597.0 L197.0,598.8 L198.0,602.0 L199.0,601.4 L200.0,602.7 L201.0,595.7 L201.9,594.8 L202.9,594.0 L203.9,593.5 L204.9,591.2 L205.9,593.0 L206.9,595.6 L207.9,597.5 L208.8,601.5 L209.8,609.1 L210.8,611.0 L211.8,615.3 L212.8,620.2 L213.8,625.0 L214.8,628.5 L215.8,633.1 L216.8,636.8 L217.8,637.4 L218.8,640.3 L219.8,639.0 L220.7,639.8 L221.7,641.1 L222.7,641.8 L223.7,640.8 L224.8,643.8 L225.8,643.6 L226.9,641.3 L227.9,642.0 L229.0,639.9 L230.0,641.8 L231.0,640.5 L232.0,642.5 L233.0,639.4 L234.0,641.2 L235.0,642.8 L236.0,642.7 L237.0,639.5 L238.0,637.1 L238.9,637.9 L239.9,637.3 L240.9,635.1 L241.9,631.8 L242.9,630.9 L243.9,627.9 L244.9,627.2 L245.9,624.7 L246.8,624.6 L247.8,622.7 L248.8,622.9 L249.8,621.9 L250.8,619.5 L251.8,625.5 L252.8,624.6 L253.8,626.6 L254.8,627.7 L255.8,627.9 L256.8,625.3 L257.8,618.2 L258.7,619.6 L259.7,616.0 L260.7,616.9 L261.7,613.3 L262.7,614.0 L263.7,614.2 L264.7,613.8 L265.7,613.8 L266.7,612.8 L267.7,612.3 L268.7,610.1 L269.7,610.0 L270.7,611.8 L271.7,610.6 L272.7,610.5 L273.6,607.4 L274.6,604.7 L275.6,607.8 L276.6,608.6 L277.6,608.0 L278.6,603.5 L279.6,604.4 L280.6,607.2 L281.5,601.3 L282.5,603.5 L283.5,600.1 L284.5,602.6 L285.5,605.4 L286.5,605.5 L287.5,611.1 L288.5,613.8 L289.5,613.0 L290.5,611.8 L291.5,609.3 L292.5,604.2 L293.5,602.9 L294.4,602.9 L295.4,601.7 L296.4,601.1 L297.4,594.2 L298.4,590.0 L299.4,592.2 L300.4,597.6 L301.4,600.4 L302.3,599.1 L303.3,604.1 L304.3,608.0 L305.3,610.3 L306.3,607.9 L307.3,604.9 L308.3,604.5 L309.3,601.1 L310.3,604.4 L311.3,606.4 L312.3,613.0 L313.3,611.9 L314.3,613.6 L315.3,614.2 L316.2,613.7 L317.2,610.9 L318.2,608.1 L319.2,607.1 L320.2,607.8 L321.2,602.1 L322.2,598.8 L323.2,597.0 L324.2,595.2 L325.2,597.5 L326.2,600.0 L327.2,596.4 L328.2,594.8 L329.2,595.5 L330.2,593.5 L331.1,592.1 L332.1,594.5 L333.1,589.9 L334.1,588.9 L335.1,588.3 L336.1,586.9 L337.1,587.2 L338.1,587.1 L339.1,586.4 L340.1,588.7 L341.0,591.2 L342.0,590.6 L343.0,589.2 L344.0,586.8 L345.0,585.7 L346.0,587.1 L347.0,585.2 L348.0,587.1 L348.9,589.2 L349.9,590.4 L350.9,593.2 L351.9,592.4 L352.9,590.4 L353.9,583.5 L354.9,582.4 L355.9,581.0 L356.9,578.3 L357.9,579.5 L358.9,576.6 L359.9,579.8 L360.9,579.1 L361.8,578.2 L362.8,580.2 L363.8,578.9 L364.8,582.3 L365.8,578.3 L366.8,576.2 L367.8,574.9 L368.8,576.3 L369.8,582.3 L370.8,587.4 L371.8,591.1 L372.7,593.0 L373.7,594.5 L374.7,599.1 L375.7,600.8 L376.7,599.3 L377.7,599.0 L378.7,600.8 L379.7,597.6 L380.7,600.7 L381.7,602.1 L382.8,596.4 L383.9,595.5 L385.0,590.0 L386.0,588.2 L387.0,595.3 L388.1,595.6 L389.1,598.9 L390.1,598.9 L391.1,603.6 L392.1,602.2 L393.2,600.0 L394.2,599.1 L395.2,601.2 L396.3,599.7 L397.3,599.9 L398.3,599.7 L399.3,596.8 L400.4,593.9 L401.4,591.5 L402.4,590.6 L403.4,589.5 L404.4,586.9 L405.4,584.8 L406.5,581.9 L407.5,580.3 L408.5,577.5 L409.5,578.8 L410.4,579.4 L411.4,583.1 L412.4,588.7 L413.3,587.7 L414.3,588.1 L415.3,589.0 L416.2,589.2 L417.2,591.2 L418.3,592.4 L419.3,590.6 L420.4,593.2 L421.4,592.9 L422.5,594.1 L423.5,596.0 L424.6,594.9 L425.6,595.2 L426.6,594.1 L427.6,595.3 L428.6,594.3 L429.6,593.0 L430.5,589.3 L431.5,590.9 L432.5,589.0 L433.5,590.1 L434.5,588.7 L435.5,585.1 L436.5,587.3 L437.5,585.9 L438.5,583.4 L439.5,583.6 L440.6,580.8 L441.6,582.8 L442.6,579.6 L443.6,582.8 L444.6,581.1 L445.6,581.3 L446.6,577.4 L447.5,576.0 L448.5,575.1 L449.5,572.3 L450.4,570.0 L451.4,566.3 L452.4,566.7 L453.3,563.3 L454.3,561.4 L455.3,561.2 L456.3,558.2 L457.3,561.4 L458.3,556.4 L459.3,555.2 L460.3,554.5 L461.3,555.8 L462.4,559.1 L463.4,559.4 L464.4,559.1 L465.4,559.0 L466.4,558.5 L467.4,554.0 L468.4,552.8 L469.4,551.4 L470.4,550.2 L471.4,549.1 L472.4,549.5 L473.4,547.6 L474.4,545.6 L475.4,542.9 L476.3,548.7 L477.2,551.0 L478.2,553.3 L479.1,556.5 L480.1,558.4 L481.2,554.2 L482.2,552.7 L483.2,552.4 L484.3,547.0 L485.3,546.6 L486.3,546.9 L487.4,549.8 L488.4,550.7 L489.4,550.9 L490.5,550.8 L491.5,551.5 L492.5,549.7 L493.5,547.6 L494.6,546.6 L495.6,545.9 L496.6,546.4 L497.6,545.3 L498.6,544.8 L499.6,543.8 L500.7,542.7 L501.7,544.4 L502.7,539.4 L503.7,535.7 L504.7,537.7 L505.7,534.1 L506.8,534.5 L507.8,531.9 L508.8,531.7 L509.8,535.6 L510.9,534.8 L511.9,540.5 L512.9,543.2 L514.0,545.0 L515.0,549.0 L516.0,546.0 L517.1,541.2 L518.1,545.0 L519.1,540.7 L520.2,538.5 L521.2,537.9 L522.3,538.4 L523.3,540.5 L524.4,542.7 L525.4,538.6 L526.5,539.7 L527.5,540.8 L528.6,541.6 L529.6,540.8 L530.6,541.1 L531.6,540.7 L532.6,540.6 L533.6,539.1 L534.7,539.1 L535.7,541.5 L536.8,540.7 L537.8,543.3 L538.9,543.8 L539.8,544.4 L540.8,546.8 L541.7,549.3 L542.6,549.5 L543.6,548.1 L544.5,551.6 L545.4,546.6 L546.4,545.6 L547.3,545.9 L548.2,543.9 L549.2,543.5 L550.1,542.7 L551.2,548.6 L552.3,551.1 L553.4,553.3 L554.5,558.3 L555.5,548.6 L556.5,547.1 L557.5,543.7 L558.5,538.8 L559.4,537.7 L560.4,533.8 L561.4,528.2 L562.4,524.8 L563.3,528.7 L564.2,526.0 L565.1,529.3 L566.1,532.5 L567.0,531.6 L567.9,536.0 L568.9,537.7 L569.9,531.5 L570.9,531.5 L571.9,530.3 L572.9,529.3 L573.9,528.5 L574.9,526.6 L575.9,528.7 L576.9,527.1 L577.9,527.8 L578.9,528.1 L579.9,529.5 L580.9,529.3 L581.9,526.0 L582.9,528.1 L583.9,529.8 L584.9,527.7 L585.9,529.0 L586.9,531.5 L587.9,531.1 L588.9,533.5 L589.9,533.8 L590.9,534.1 L591.8,533.3 L592.8,534.1 L593.8,528.7 L594.8,525.9 L595.8,527.1 L596.9,528.0 L598.0,529.8 L599.2,527.6 L600.3,526.0 L601.4,532.9 L602.5,542.4 L603.6,549.4 L604.6,549.3 L605.5,548.7 L606.5,547.1 L607.4,550.7 L608.4,544.3 L609.3,545.6 L610.3,542.7 L611.4,541.4 L612.5,538.5 L613.7,538.9 L614.8,536.0 L615.9,535.8 L617.0,541.1 L618.2,541.9 L619.3,544.9 L620.3,551.0 L621.2,551.3 L622.2,554.4 L623.1,556.3 L624.1,557.5 L625.0,560.8 L626.0,562.8 L627.1,568.7 L628.2,568.5 L629.3,571.4 L630.4,571.7 L631.5,566.8 L632.6,563.5 L633.8,561.6 L634.9,560.5 L635.9,559.6 L636.9,561.8 L637.9,567.1 L638.9,565.5 L639.9,565.8 L641.0,563.7 L642.0,565.4 L643.0,566.1 L644.0,571.3 L645.0,569.6 L646.0,571.7 L646.9,575.7 L647.9,575.2 L648.8,579.9 L649.7,581.6 L650.7,582.9 L651.6,585.1 L652.5,583.1 L653.5,581.2 L654.4,577.0 L655.3,576.8 L656.3,571.5 L657.2,573.9 L658.2,574.3 L659.2,574.8 L660.2,575.2 L661.2,576.7 L662.1,576.3 L663.1,575.9 L664.1,578.5 L665.1,577.8 L666.1,576.1 L667.0,578.8 L668.0,576.7 L668.9,579.5 L669.8,578.8 L670.8,579.1 L671.7,580.6 L672.6,578.9 L673.6,577.3 L674.5,571.8 L675.4,569.4 L676.4,567.6 L677.3,565.0 L678.3,564.6 L679.2,566.3 L680.2,566.3 L681.2,565.0 L682.1,560.0 L683.1,564.6 L684.1,564.4 L685.1,562.8 L686.0,563.4 L687.0,564.8 L688.0,561.0 L688.9,561.4 L689.9,563.6 L690.9,561.1 L691.8,559.6 L692.8,558.9 L693.8,557.7 L694.7,553.7 L695.7,556.1 L696.7,554.2 L697.6,555.4 L698.6,554.9 L699.6,554.7 L700.5,555.3 L701.5,551.0 L702.4,554.6 L703.4,551.1 L704.3,553.9 L705.3,554.8 L706.2,553.6 L707.2,553.7 L708.2,554.7 L709.2,556.0 L710.2,556.2 L711.2,553.4 L712.2,558.2 L713.2,557.4 L714.2,556.1 L715.2,555.6 L716.2,556.8 L717.2,556.1 L718.3,556.4 L719.3,553.1 L720.4,551.6 L721.4,551.4 L722.5,549.0 L723.5,547.7 L724.6,547.5 L725.6,544.1 L726.6,545.9 L727.6,546.5 L728.6,548.7 L729.6,546.0 L730.7,543.4 L731.7,544.9 L732.7,538.8 L733.7,538.6 L734.7,545.4 L735.7,540.0 L736.7,541.1 L737.8,541.4 L738.8,541.3 L739.8,538.4 L740.9,536.5 L741.9,538.8 L742.9,541.2 L743.9,543.4 L744.9,545.8 L745.9,545.0 L746.9,548.7 L748.0,545.3 L749.0,548.5 L750.1,546.2 L751.1,543.4 L752.2,541.9 L753.2,539.4 L754.3,540.0 L755.4,538.3 L756.4,540.6 L757.5,540.1 L758.5,539.1 L759.6,537.3 L760.6,538.0 L761.7,536.3 L762.6,533.0 L763.6,535.0 L764.5,538.6 L765.5,537.1 L766.4,538.2 L767.3,540.3 L768.3,540.5 L769.2,541.3 L770.2,540.6 L771.2,541.4 L772.2,541.6 L773.2,543.7 L774.2,540.3 L775.1,538.5 L776.1,535.2 L777.1,539.7 L778.1,539.3 L779.1,536.3 L780.3,541.4 L781.5,553.7 L782.4,556.1 L783.4,553.4 L784.3,552.2 L785.2,553.3 L786.2,553.3 L787.1,554.6 L788.1,554.1 L789.0,553.7 L790.0,558.2 L791.0,560.6 L791.9,565.7 L792.9,563.7 L793.9,571.0 L794.9,565.7 L795.9,564.5 L796.9,562.5 L797.9,558.5 L798.9,556.1 L799.9,557.4 L800.9,558.4 L801.9,556.2 L802.9,552.6 L803.8,552.2 L804.8,550.0 L805.8,547.8 L806.8,544.4 L807.8,539.2 L808.8,542.5 L809.9,544.5 L810.9,545.4 L812.0,544.5 L813.0,546.5 L814.1,548.6 L815.1,548.8 L816.2,551.2 L817.1,550.3 L818.1,546.3 L819.0,546.2 L820.0,545.4 L820.9,543.3 L821.8,540.7 L822.8,536.7 L823.7,537.5 L824.7,540.2 L825.7,540.2 L826.8,542.4 L827.8,545.6 L828.8,545.8 L829.8,549.9 L830.7,548.6 L831.7,546.5 L832.6,542.4 L833.6,545.3 L834.5,541.6 L835.6,544.0 L836.7,544.7 L837.8,544.4 L838.9,544.9 L840.0,539.4 L841.1,540.4 L842.3,540.2 L843.4,537.1 L844.3,533.1 L845.3,536.8 L846.2,534.9 L847.1,533.5 L848.1,534.2 L849.0,532.6 L850.1,532.7 L851.2,529.7 L852.3,529.0 L853.4,522.6 L854.5,527.9 L855.7,531.5 L856.8,528.3 L857.9,523.7 L859.0,530.1 L860.1,538.2 L861.2,550.9 L862.3,562.8 L863.5,578.4 L864.6,572.0 L865.7,565.9 L866.8,560.5 L867.9,559.9 L869.0,559.1 L870.2,563.3 L871.3,561.6 L872.4,554.2 L873.5,543.7 L874.6,536.0 L875.7,539.2 L876.9,544.9 L878.0,547.1 L878.9,547.0 L879.8,545.7 L880.8,541.6 L881.7,540.4 L882.6,540.5 L883.5,538.2 L884.4,533.7 L885.4,531.7 L886.3,529.2 L887.2,529.3 L888.2,528.3 L889.1,524.8 L890.2,527.9 L891.4,529.5 L892.5,526.4 L893.6,527.1 L894.7,524.7 L895.8,521.5 L896.9,526.5 L898.0,534.9 L899.1,527.7 L900.3,516.5 L901.4,509.2 L902.3,503.9 L903.3,500.4 L904.2,500.9 L905.1,504.1 L906.1,501.9 L907.0,498.1 L907.9,500.5 L908.8,502.0 L909.8,502.3 L910.7,507.8 L911.6,506.0 L912.5,505.9 L913.6,503.3 L914.8,498.5 L915.9,492.5 L917.0,486.9 L918.1,484.6 L919.2,483.4 L920.4,482.5 L921.5,480.2 L922.4,476.5 L923.4,475.6 L924.3,472.6 L925.3,471.9 L926.2,470.8 L927.2,472.0 L928.1,469.1 L929.0,469.7 L930.0,470.6 L930.9,466.8 L931.8,464.6 L932.8,467.3 L933.7,462.4 L934.8,458.9 L935.8,459.3 L936.9,454.3 L937.9,451.6 L939.0,451.4 L940.0,449.9 L941.0,455.7 L942.0,458.2 L943.0,463.3 L944.0,461.0 L945.0,456.0 L946.0,454.3 L947.0,454.5 L947.9,459.4 L948.9,463.3 L950.0,457.2 L951.2,454.3 L952.2,446.1 L953.3,443.6 L954.3,439.3 L955.4,435.1 L956.4,429.1 L957.4,429.3 L958.3,428.9 L959.3,430.6 L960.3,437.8 L961.3,444.7 L962.3,446.2 L963.3,441.4 L964.3,432.1 L965.3,423.9 L966.3,437.1 L967.3,442.9 L968.3,455.8 L969.3,452.1 L970.2,447.3 L971.2,442.5 L972.2,452.7 L973.1,465.0 L974.0,472.3 L975.0,485.6 L976.0,472.7 L976.9,459.0 L977.9,443.9 L978.9,441.5 L979.9,440.8 L980.9,435.8 L981.8,444.0 L982.8,450.4 L983.7,459.1 L984.6,469.2 L985.6,472.8 L986.6,477.8 L987.6,479.6 L988.7,464.4 L989.8,449.9 L990.5,462.3 L991.3,478.1 L992.4,473.2 L993.5,466.2 L994.5,462.5 L995.5,459.9 L996.5,452.9 L997.4,447.3 L998.4,446.1 L999.3,441.2 L1000.2,438.0 L1001.4,441.6 L1002.5,449.9 L1003.2,445.5 L1004.0,437.2 L1004.9,443.3 L1005.9,450.3 L1006.8,457.5 L1007.7,464.8 L1008.6,459.5 L1009.5,456.2 L1010.5,451.4 L1011.4,450.6 L1012.4,446.5 L1013.4,445.4 L1014.4,443.9 L1015.3,443.9 L1016.2,442.2 L1017.2,440.5 L1018.1,441.0 L1019.2,451.6 L1020.3,464.0 L1021.3,459.3 L1022.3,456.5 L1023.3,444.7 L1024.3,439.9 L1025.3,433.7 L1026.3,428.3 L1027.3,430.2 L1028.2,428.4 L1029.2,426.1 L1030.2,430.1 L1031.1,437.5 L1032.0,439.4 L1033.0,444.7 L1034.1,435.0 L1035.2,429.1 L1036.2,425.4 L1037.3,423.0 L1038.3,418.8 L1039.4,415.6 L1040.4,411.2 L1041.5,418.7 L1042.7,421.9 L1043.8,425.3 L1044.9,430.6 L1046.0,422.9 L1047.1,416.3 L1048.2,410.2 L1049.3,400.8 L1050.2,400.9 L1051.2,403.0 L1052.1,401.4 L1053.0,398.6 L1054.1,400.7 L1055.1,400.4 L1056.2,402.3 L1057.2,403.1 L1058.3,403.8 L1059.4,409.0 L1060.5,411.2 L1061.4,413.5 L1062.3,417.3 L1063.3,420.8 L1064.2,423.1 L1065.2,422.4 L1066.1,417.9" fill="none" stroke="#dfbbb1" stroke-width="3.4" stroke-linejoin="round"/>
</svg>
<div class="t" style="left:1067.70px;top:110.75px;font-size:16px;font-weight:bold;color:#7e473d;--ls:-1.360px;letter-spacing:-1.360px;line-height:24px">当ファンドの</div>
<div class="t" style="left:1068.10px;top:134.15px;font-size:16px;font-weight:bold;color:#7e473d;--ls:3.300px;letter-spacing:3.300px;line-height:24px">基準価額</div>
<div class="t" style="left:1069.30px;top:156.95px;font-size:16px;font-weight:bold;color:#7e473d;--ls:2.463px;letter-spacing:2.463px;line-height:24px">(分配金再投資後)</div>
<div class="t" style="left:1085.80px;top:223.75px;font-size:16px;font-weight:bold;color:#cab48b;--ls:2.700px;letter-spacing:2.700px;line-height:24px">先進国株式</div>
<div class="t" style="left:1089.70px;top:403.30px;font-size:16px;font-weight:bold;color:#dfbbb1;--ls:-1.560px;letter-spacing:-1.560px;line-height:24px">当ファンドの</div>
<div class="t" style="left:1090.30px;top:425.90px;font-size:16px;font-weight:bold;color:#dfbbb1;--ls:2.867px;letter-spacing:2.867px;line-height:24px">基準価額</div>
<div class="t" style="left:8.90px;top:707.15px;font-size:17px;font-weight:normal;color:#3c3c3c;--ls:-0.715px;letter-spacing:-0.715px;line-height:22px"><span class="kj">※当</span><span class="ka">フ</span><span class="sk">ァ</span><span class="kn">ン</span><span class="ka">ド</span><span class="hi">の</span><span class="kj">基準価額</span><span class="hi">および</span><span class="kj">当</span><span class="ka">フ</span><span class="sk">ァ</span><span class="kn">ン</span><span class="ka">ド</span><span class="hi">の</span><span class="kj">基準価額</span><span class="pl">(</span><span class="kj">分配金再投資後</span><span class="pr">)</span><span class="co">:</span><span class="kj">基準価額</span><span class="hi">は</span><span class="dg">1</span><span class="kj">万口当</span><span class="hi">たり</span><span class="pu">、</span><span class="kj">実質的</span><span class="hi">な</span><span class="kj">信託報酬等控除後</span><span class="pu">。</span><span class="kj">基準価額</span><span class="pl">(</span><span class="kj">分配</span></div>
<div class="t" style="left:10.90px;top:729.75px;font-size:17px;font-weight:normal;color:#3c3c3c;--ls:-0.932px;letter-spacing:-0.932px;line-height:22px"><span class="kj">金再投資後</span><span class="pr">)</span><span class="hi">は</span><span class="pu">、</span><span class="kj">購入時手数料等</span><span class="hi">を</span><span class="kj">考慮</span><span class="hi">せず</span><span class="pu">、</span><span class="kj">税引前分配金</span><span class="hi">を</span><span class="kj">再投資</span><span class="hi">した</span><span class="kj">場合</span><span class="hi">の</span><span class="kj">評価額</span><span class="hi">を</span><span class="kj">表</span><span class="hi">します</span><span class="pu">。</span></div>
<div class="t" style="left:8.90px;top:752.75px;font-size:17px;font-weight:normal;color:#3c3c3c;--ls:-0.772px;letter-spacing:-0.772px;line-height:22px"><span class="kj">※先進国株式</span><span class="co">:</span><span class="dg">MSCI</span><span class="kj">世界株価指数</span><span class="pl">(</span><span class="kj">配当込</span><span class="hi">み</span><span class="pr">)</span><span class="pu">、</span><span class="kj">基準価額</span><span class="hi">の</span><span class="kj">算出</span><span class="hi">に</span><span class="kj">合</span><span class="hi">わせて</span><span class="dg">1</span><span class="kj">営業日前株価</span><span class="pu">、</span><span class="kj">当日為替</span><span class="hi">で</span><span class="kj">円換算</span><span class="hi">しています</span><span class="pu">。</span></div>
<div class="t" style="left:9.90px;top:776.25px;font-size:17px;font-weight:normal;color:#3c3c3c;--ls:-0.865px;letter-spacing:-0.865px;line-height:22px"><span class="kj">出所</span><span class="co">:</span><span class="ka">ブルームバーグ</span><span class="hi">の</span><span class="ka">データ</span><span class="hi">を</span><span class="kj">基</span><span class="hi">に</span><span class="ka">ピクテ･ジ</span><span class="sk">ャ</span><span class="ka">パ</span><span class="kn">ン</span><span class="kj">作成</span></div>

</body></html>
